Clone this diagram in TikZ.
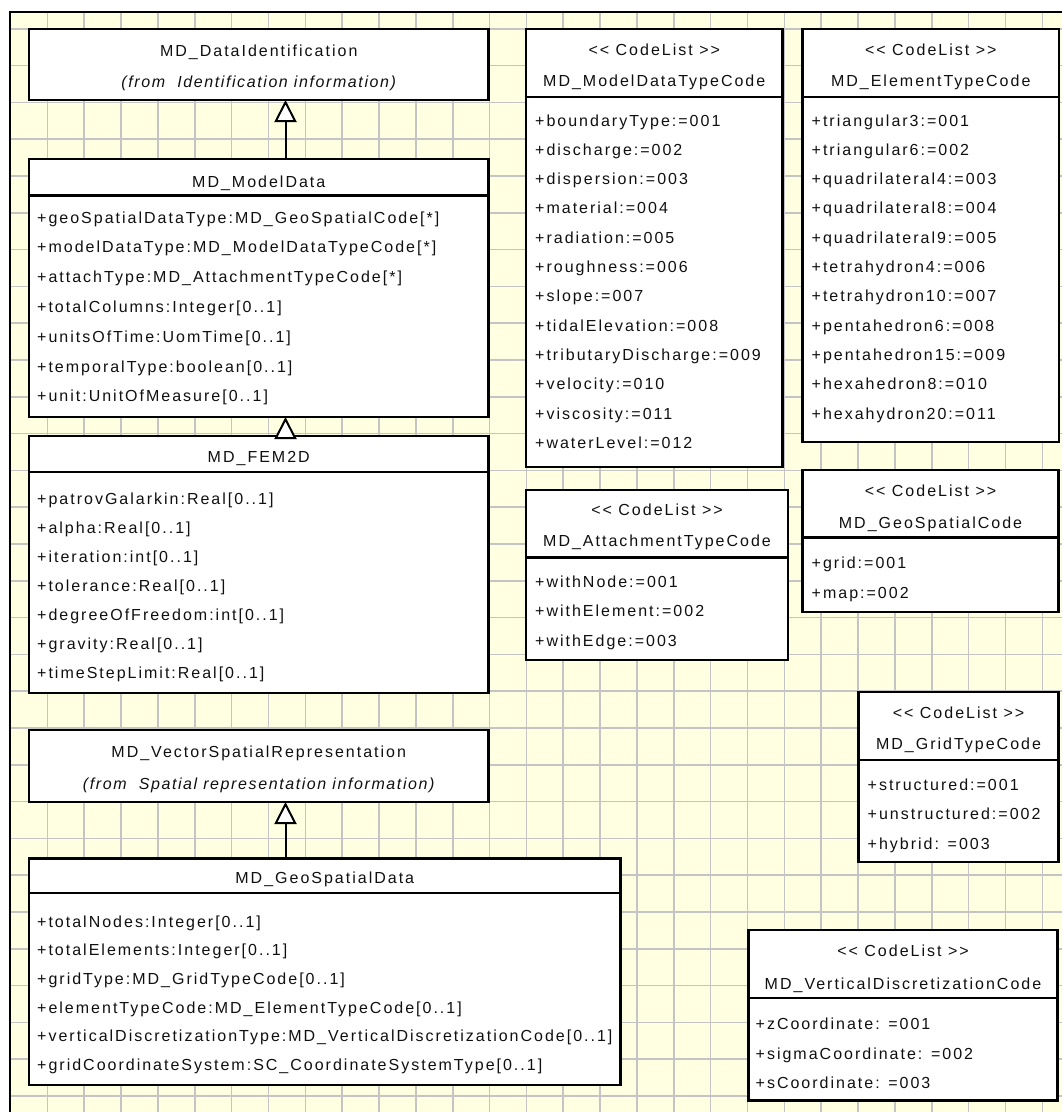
\documentclass[tikz,border=0pt]{standalone}
\usepackage{fontspec}
\usetikzlibrary{arrows.meta}
\newfontfamily\umlfont{Liberation Sans}[LetterSpace=12.5]
\newfontfamily\srcfont{Liberation Sans}[LetterSpace=10]
\definecolor{paper}{HTML}{FFFFE1}
\definecolor{gridln}{HTML}{C4C4C4}
\definecolor{ink}{HTML}{101010}
\newcommand{\txtsize}{\fontsize{16}{19}\selectfont}

\begin{document}
\begin{tikzpicture}[x=1pt,y=-1pt,
  cls/.style={draw=black, line width=2.1pt, fill=white, inner sep=0pt, outer sep=0pt, anchor=north west},
  sep/.style={draw=black, line width=2.1pt},
  attr/.style={anchor=base west, inner sep=0pt, font=\txtsize\umlfont, text=ink},
  ttl/.style={anchor=base, inner sep=0pt, font=\txtsize\umlfont, text=ink},
  src/.style={anchor=base, inner sep=0pt, font=\txtsize\srcfont\itshape, text=ink},
  gen/.style={draw=black, line width=2pt, -{Triangle[length=22pt,width=22pt,fill=white]}},
]
\useasboundingbox (0,0) rectangle (1062,1112);
\fill[white] (0,0) rectangle (1062,1112);

% drawing sheet with grid
\fill[paper] (10,12) rectangle (1062,1112);
\foreach \k in {1,...,28}
  \draw[gridln, line width=1.6pt] ({10.5+36.85*\k},12) -- ({10.5+36.85*\k},1112);
\foreach \k in {0,...,29}
  \draw[gridln, line width=1.6pt] (10,{28.7+36.8*\k}) -- (1062,{28.7+36.8*\k});
\draw[line width=2.6pt] (10,1112) -- (10,12) -- (1062,12);

% ---------- left column ----------
\node[cls, minimum width=459.5pt, minimum height=71pt] (di) at (29,29) {};
\node[ttl] (di-t) at (258.75,56) {MD\_DataIdentification};
\node[src] (di-s) at (258.75,87) {(from\ \ Identification information)};

\node[cls, minimum width=459.5pt, minimum height=258pt] (md) at (29,159) {};
\draw[sep] (29,195.5) -- (488.5,195.5);
\node[ttl] (md-t) at (258.75,187) {MD\_ModelData};
\foreach \t [count=\i from 0] in {%
  +geoSpatialDataType:MD\_GeoSpatialCode[*],
  +modelDataType:MD\_ModelDataTypeCode[*],
  +attachType:MD\_AttachmentTypeCode[*],
  +totalColumns:Integer[0..1],
  +unitsOfTime:UomTime[0..1],
  +temporalType:boolean[0..1],
  +unit:UnitOfMeasure[0..1]}
  \node[attr] (md-\i) at (37,{223+29.8*\i}) {\t};

\node[cls, minimum width=459.5pt, minimum height=257pt] (fem) at (29,436) {};
\draw[sep] (29,472) -- (488.5,472);
\node[ttl] (fem-t) at (258.75,462.5) {MD\_FEM2D};
\foreach \t [count=\i from 0] in {%
  +patrovGalarkin:Real[0..1],
  +alpha:Real[0..1],
  +iteration:int[0..1],
  +tolerance:Real[0..1],
  +degreeOfFreedom:int[0..1],
  +gravity:Real[0..1],
  +timeStepLimit:Real[0..1]}
  \node[attr] (fem-\i) at (37,{504+29*\i}) {\t};

\node[cls, minimum width=459.5pt, minimum height=72pt] (vsr) at (29,730) {};
\node[ttl] (vsr-t) at (258.75,757.5) {MD\_VectorSpatialRepresentation};
\node[src] (vsr-s) at (258.75,789.5) {(from\ \ Spatial representation information)};

\node[cls, minimum width=591.5pt, minimum height=226.5pt] (gsd) at (29,858.5) {};
\draw[sep] (29,893) -- (620.5,893);
\node[ttl] (gsd-t) at (324.75,883) {MD\_GeoSpatialData};
\foreach \t [count=\i from 0] in {%
  +totalNodes:Integer[0..1],
  +totalElements:Integer[0..1],
  +gridType:MD\_GridTypeCode[0..1],
  +elementTypeCode:MD\_ElementTypeCode[0..1],
  +verticalDiscretizationType:MD\_VerticalDiscretizationCode[0..1],
  +gridCoordinateSystem:SC\_CoordinateSystemType[0..1]}
  \node[attr] (gsd-\i) at (37,{927+28.7*\i}) {\t};

% generalisation links
\coordinate (ax) at (285.5,0);
\draw[gen] (md.north -| ax) -- (di.south -| ax);
\draw[gen] (fem.north -| ax) -- (md.south -| ax);
\draw[gen] (gsd.north -| ax) -- (vsr.south -| ax);

% ---------- code lists ----------
\node[cls, minimum width=256.5pt, minimum height=438pt] (mdtc) at (526,29) {};
\draw[sep] (526,97) -- (782.5,97);
\node[ttl] (mdtc-s) at (654.25,55) {<< CodeList >>};
\node[ttl] (mdtc-t) at (654.25,86.5) {MD\_ModelDataTypeCode};
\foreach \t [count=\i from 0] in {%
  +boundaryType:=001, +discharge:=002, +dispersion:=003, +material:=004,
  +radiation:=005, +roughness:=006, +slope:=007, +tidalElevation:=008,
  +tributaryDischarge:=009, +velocity:=010, +viscosity:=011, +waterLevel:=012}
  \node[attr] (mdtc-\i) at (535,{126+29.3*\i}) {\t};

\node[cls, minimum width=256.5pt, minimum height=413pt] (etc) at (802.5,29) {};
\draw[sep] (802.5,97) -- (1059,97);
\node[ttl] (etc-s) at (930.75,55) {<< CodeList >>};
\node[ttl] (etc-t) at (930.75,86.5) {MD\_ElementTypeCode};
\foreach \t [count=\i from 0] in {%
  +triangular3:=001, +triangular6:=002, +quadrilateral4:=003,
  +quadrilateral8:=004, +quadrilateral9:=005, +tetrahydron4:=006,
  +tetrahydron10:=007, +pentahedron6:=008, +pentahedron15:=009,
  +hexahedron8:=010, +hexahydron20:=011}
  \node[attr] (etc-\i) at (811.5,{126+29.3*\i}) {\t};

\node[cls, minimum width=262pt, minimum height=170pt] (atc) at (526,490) {};
\draw[sep] (526,557.5) -- (788,557.5);
\node[ttl] (atc-s) at (657,515) {<< CodeList >>};
\node[ttl] (atc-t) at (657,546.5) {MD\_AttachmentTypeCode};
\foreach \t [count=\i from 0] in {+withNode:=001, +withElement:=002, +withEdge:=003}
  \node[attr] (atc-\i) at (535,{587+29.5*\i}) {\t};

\node[cls, minimum width=256pt, minimum height=142pt] (gsc) at (802.5,470) {};
\draw[sep] (802.5,537.5) -- (1058.5,537.5);
\node[ttl] (gsc-s) at (930.5,496) {<< CodeList >>};
\node[ttl] (gsc-t) at (930.5,528) {MD\_GeoSpatialCode};
\foreach \t [count=\i from 0] in {+grid:=001, +map:=002}
  \node[attr] (gsc-\i) at (811.5,{568.5+29.5*\i}) {\t};

\node[cls, minimum width=200pt, minimum height=170pt] (gtc) at (858.5,692) {};
\draw[sep] (858.5,760) -- (1058.5,760);
\node[ttl] (gtc-s) at (958.5,718) {<< CodeList >>};
\node[ttl] (gtc-t) at (958.5,749.5) {MD\_GridTypeCode};
\foreach \t [count=\i from 0] in {+structured:=001, +unstructured:=002, +hybrid: =003}
  \node[attr] (gtc-\i) at (867.5,{790+29.5*\i}) {\t};

\node[cls, minimum width=309pt, minimum height=170.5pt] (vdc) at (748.5,930) {};
\draw[sep] (748.5,998) -- (1057.5,998);
\node[ttl] (vdc-s) at (903,956.5) {<< CodeList >>};
\node[ttl] (vdc-t) at (903,989) {MD\_VerticalDiscretizationCode};
\foreach \t [count=\i from 0] in {+zCoordinate: =001, +sigmaCoordinate: =002, +sCoordinate: =003}
  \node[attr] (vdc-\i) at (755.5,{1029.5+29.5*\i}) {\t};
\end{tikzpicture}
\end{document}
